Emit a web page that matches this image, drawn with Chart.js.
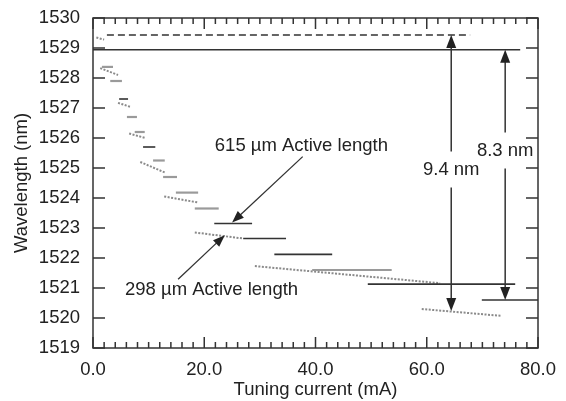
<!DOCTYPE html>
<html lang="en">
<head>
    <meta charset="UTF-8">
    <title>Wavelength vs tuning current</title>
    <script src="https://cdn.jsdelivr.net/npm/chart.js"></script>
    <style>
        body { margin: 0; background: #fff; }
        canvas { display: block; }
    </style>
</head>
<body>
    <canvas id="myChart" width="566" height="401"></canvas>
    <script>
    // Horizontal mode steps (wavelength in nm, current range in mA)
    const stepWavelength = [1528.37, 1527.90, 1527.30, 1526.70, 1526.20, 1525.70, 1525.25, 1524.70,
                            1524.18, 1523.65, 1523.15, 1522.65, 1522.12, 1521.60, 1521.13, 1520.60];
    const stepStart = [1.6, 3.1, 4.7, 6.1, 7.5, 9.0, 10.8, 12.6, 14.9, 18.3, 21.8, 27.0, 32.6, 39.4, 49.4, 69.9];
    const stepEnd   = [3.6, 5.2, 6.3, 7.9, 9.3, 11.2, 12.9, 15.1, 18.9, 22.6, 28.6, 34.7, 43.0, 53.7, 75.9, 80.0];

    // Sloped dotted tuning traces
    const driftStartX = [0.6, 1.3, 4.5, 6.5, 8.5, 12.8, 18.3, 29.1, 59.1];
    const driftStartY = [1529.35, 1528.33, 1527.17, 1526.15, 1525.20, 1524.05, 1522.85, 1521.73, 1520.30];
    const driftEndX   = [2.0, 4.5, 6.7, 9.4, 12.9, 18.9, 27.0, 62.4, 73.5];
    const driftEndY   = [1529.28, 1528.10, 1527.04, 1526.00, 1524.85, 1523.85, 1522.65, 1521.16, 1520.07];

    // Long reference lines at the top (dashed, solid)
    const refWavelength = [1529.43, 1528.94];
    const refStart = [2.5, 0.0];
    const refEnd = [67.8, 76.8];

    // Tuning span arrows
    const spanCurrent = [64.4, 74.1];
    const spanTop = [1529.43, 1528.94];
    const spanBottom = [1520.23, 1520.60];
    const spanLabel = ['9.4 nm', '8.3 nm'];
    const spanLabelY = [1524.95, 1525.58];

    // Callouts: text, text anchor, arrow tail, arrow tip
    const calloutText = ['615 \u00b5m Active length', '298 \u00b5m Active length'];
    const calloutAt = [[21.9, 1525.75], [5.75, 1520.93]];
    const calloutTail = [[37.7, 1525.38], [15.3, 1521.29]];
    const calloutTip = [[25.0, 1523.18], [23.7, 1522.76]];

    const FONT = 'Liberation Sans, Arial, Helvetica, sans-serif';
    const TEXT = '#222';
    const darkSteps = new Set([2, 5, 10, 11, 12, 14, 15]);

    const datasets = [];
    stepWavelength.forEach((w, i) => {
        const dark = darkSteps.has(i);
        datasets.push({
            data: [{ x: stepStart[i], y: w }, { x: stepEnd[i], y: w }],
            borderColor: dark ? '#333' : '#9a9a9a',
            borderWidth: dark ? 1.6 : 2.2
        });
    });
    driftStartX.forEach((x0, i) => {
        datasets.push({
            data: [{ x: x0, y: driftStartY[i] }, { x: driftEndX[i], y: driftEndY[i] }],
            borderColor: '#8a8a8a',
            borderWidth: 2,
            borderDash: [2, 1.5]
        });
    });
    refWavelength.forEach((w, i) => {
        datasets.push({
            data: [{ x: refStart[i], y: w }, { x: refEnd[i], y: w }],
            borderColor: '#333',
            borderWidth: 1.5,
            borderDash: i === 0 ? [7, 4] : []
        });
    });
    datasets.forEach(d => { d.showLine = true; d.pointRadius = 0; d.fill = false; });

    function arrowHead(ctx, x0, y0, x1, y1, len, half) {
        const ang = Math.atan2(y1 - y0, x1 - x0);
        ctx.beginPath();
        ctx.moveTo(x1, y1);
        ctx.lineTo(x1 - len * Math.cos(ang) + half * Math.sin(ang), y1 - len * Math.sin(ang) - half * Math.cos(ang));
        ctx.lineTo(x1 - len * Math.cos(ang) - half * Math.sin(ang), y1 - len * Math.sin(ang) + half * Math.cos(ang));
        ctx.closePath();
        ctx.fill();
    }

    const overlay = {
        id: 'overlay',
        afterDatasetsDraw(chart) {
            const { ctx, chartArea: a, scales: { x, y } } = chart;
            ctx.save();
            ctx.strokeStyle = '#333';
            ctx.fillStyle = '#333';
            ctx.lineWidth = 1.5;

            // frame
            ctx.strokeRect(a.left, a.top, a.right - a.left, a.bottom - a.top);

            // inner ticks
            ctx.beginPath();
            for (let v = 0; v <= 80; v += 2) {
                const px = x.getPixelForValue(v);
                const len = v % 20 === 0 ? 11 : 6;
                ctx.moveTo(px, a.bottom); ctx.lineTo(px, a.bottom - len);
                ctx.moveTo(px, a.top); ctx.lineTo(px, a.top + len);
            }
            for (let v = 1519; v <= 1530; v++) {
                const py = y.getPixelForValue(v);
                ctx.moveTo(a.left, py); ctx.lineTo(a.left + 12, py);
                ctx.moveTo(a.right, py); ctx.lineTo(a.right - 12, py);
            }
            ctx.stroke();

            // span arrows
            ctx.font = '18.5px ' + FONT;
            ctx.textAlign = 'center';
            ctx.textBaseline = 'middle';
            spanCurrent.forEach((c, i) => {
                const px = x.getPixelForValue(c);
                const top = y.getPixelForValue(spanTop[i]);
                const bot = y.getPixelForValue(spanBottom[i]);
                const ly = y.getPixelForValue(spanLabelY[i]);
                ctx.strokeStyle = '#333';
                ctx.lineWidth = 1.5;
                ctx.beginPath();
                ctx.moveTo(px, top + 10); ctx.lineTo(px, ly - 18);
                ctx.moveTo(px, ly + 18); ctx.lineTo(px, bot - 10);
                ctx.stroke();
                ctx.fillStyle = '#222';
                arrowHead(ctx, px, ly, px, top, 13, 5);
                arrowHead(ctx, px, ly, px, bot, 13, 5);
                ctx.fillStyle = TEXT;
                ctx.fillText(spanLabel[i], px, ly);
            });

            // callouts
            ctx.textAlign = 'left';
            calloutText.forEach((t, i) => {
                const tx = x.getPixelForValue(calloutTail[i][0]);
                const ty = y.getPixelForValue(calloutTail[i][1]);
                const hx = x.getPixelForValue(calloutTip[i][0]);
                const hy = y.getPixelForValue(calloutTip[i][1]);
                const ang = Math.atan2(hy - ty, hx - tx);
                ctx.strokeStyle = '#333';
                ctx.lineWidth = 1.3;
                ctx.beginPath();
                ctx.moveTo(tx, ty);
                ctx.lineTo(hx - 9 * Math.cos(ang), hy - 9 * Math.sin(ang));
                ctx.stroke();
                ctx.fillStyle = '#222';
                arrowHead(ctx, tx, ty, hx, hy, 12, 4.5);
                ctx.fillStyle = TEXT;
                ctx.fillText(t, x.getPixelForValue(calloutAt[i][0]), y.getPixelForValue(calloutAt[i][1]));
            });
            ctx.restore();
        }
    };

    const tickFont = { family: FONT, size: 18.5 };

    new Chart(document.getElementById('myChart').getContext('2d'), {
        type: 'scatter',
        data: { datasets: datasets },
        options: {
            responsive: false,
            animation: false,
            devicePixelRatio: 1,
            layout: { padding: { left: 0, right: 28, top: 18, bottom: 0 } },
            plugins: {
                legend: { display: false },
                tooltip: { enabled: false }
            },
            scales: {
                x: {
                    type: 'linear',
                    min: 0,
                    max: 80,
                    grid: { display: false },
                    border: { display: false },
                    ticks: {
                        stepSize: 20,
                        padding: 3,
                        color: TEXT,
                        font: tickFont,
                        maxRotation: 0,
                        callback: v => v.toFixed(1)
                    },
                    title: {
                        display: true,
                        text: 'Tuning current (mA)',
                        color: TEXT,
                        font: tickFont,
                        padding: { top: 0, bottom: 0 }
                    },
                    afterFit: s => { s.height = 53; }
                },
                y: {
                    min: 1519,
                    max: 1530,
                    grid: { display: false },
                    border: { display: false },
                    ticks: {
                        stepSize: 1,
                        padding: 5,
                        color: TEXT,
                        font: tickFont,
                        callback: v => String(v)
                    },
                    title: {
                        display: true,
                        text: 'Wavelength (nm)',
                        color: TEXT,
                        font: tickFont,
                        padding: { top: 11, bottom: 0 }
                    },
                    afterFit: s => { s.width = 93; }
                }
            }
        },
        plugins: [overlay]
    });
    </script>
</body>
</html>
